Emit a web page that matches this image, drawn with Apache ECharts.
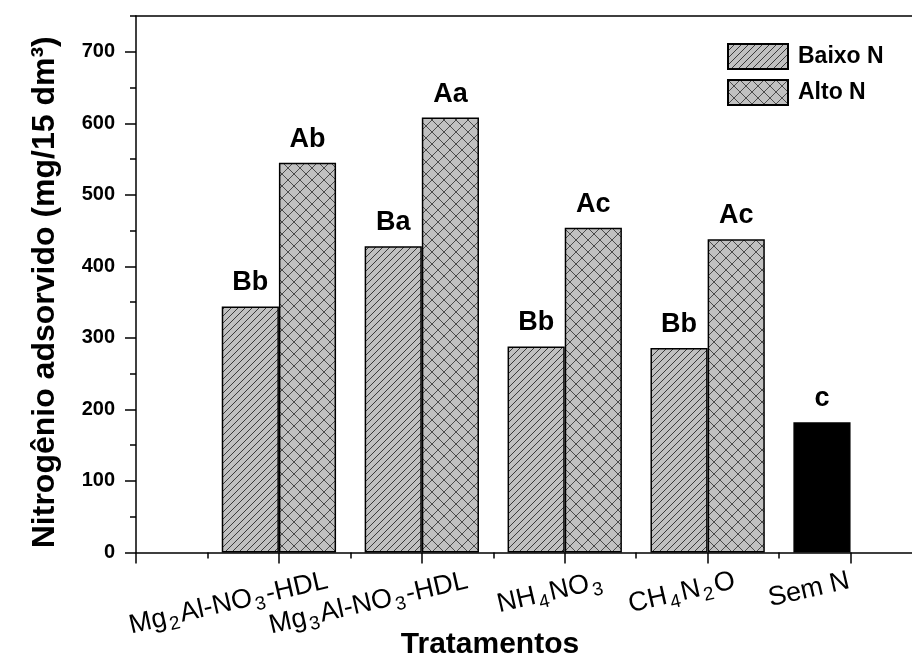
<!DOCTYPE html>
<html>
<head>
<meta charset="utf-8">
<script src="https://cdn.jsdelivr.net/npm/echarts@6/dist/echarts.min.js"></script>
<style>
html,body{margin:0;padding:0;background:#fff;}
#chart{width:912px;height:658px;}
</style>
</head>
<body>
<div id="chart"></div>
<script>
// ---- data ----
const categories = ['Mg2Al-NO3-HDL', 'Mg3Al-NO3-HDL', 'NH4NO3', 'CH4N2O', 'Sem N'];
const seriesNames = ['Baixo N', 'Alto N'];
const baixoValues = [344, 428, 288, 286, 182];
const altoValues = [545, 608, 454, 438];
const baixoLetters = ['Bb', 'Ba', 'Bb', 'Bb', 'c'];
const altoLetters = ['Ab', 'Aa', 'Ac', 'Ac'];
const yTicks = [0, 100, 200, 300, 400, 500, 600, 700];
const yMinorTicks = [50, 150, 250, 350, 450, 550, 650, 750];
const yMax = 750;

// ---- layout / style ----
const FONT = 'Liberation Sans, Arial, sans-serif';
const xMax = 5.43;
const labelShift = [0.34, 0.32, 0.27, 0.19, -0.01];
const xMajor = [0].concat(categories.map((c, i) => i + 1));
const xMinor = categories.map((c, i) => i + 0.5);
const labelPos = categories.map((c, i) => i + 1 + labelShift[i]);

function hatch(p, both, bg, fg) {
  const c = document.createElement('canvas');
  c.width = p; c.height = p;
  const g = c.getContext('2d');
  g.fillStyle = bg; g.fillRect(0, 0, p, p);
  g.strokeStyle = fg; g.lineWidth = 1;
  g.beginPath();
  g.moveTo(0, p); g.lineTo(p, 0);
  g.moveTo(-1, 1); g.lineTo(1, -1);
  g.moveTo(p - 1, p + 1); g.lineTo(p + 1, p - 1);
  if (both) {
    g.moveTo(0, 0); g.lineTo(p, p);
    g.moveTo(-1, p - 1); g.lineTo(1, p + 1);
    g.moveTo(p - 1, -1); g.lineTo(p + 1, 1);
  }
  g.stroke();
  return c;
}
const baixoPattern = { image: hatch(7, false, '#c0c0c0', '#3a3a3a'), repeat: 'repeat' };
const altoPattern = { image: hatch(12, true, '#c0c0c0', '#4a4a4a'), repeat: 'repeat' };

function richName(name) {
  return name.replace(/(\d)/g, '{s|$1}').replace(/(^|\})([^{}]+)(?=\{|$)/g, function (m, a, b) { return a + '{n|' + b + '}'; });
}

const axisLineStyle = { color: '#000', width: 1.5 };

const chart = echarts.init(document.getElementById('chart'), null, { renderer: 'canvas' });
chart.setOption({
  animation: false,
  backgroundColor: '#fff',
  textStyle: { fontFamily: FONT },
  grid: { left: 136, right: 0, top: 16, bottom: 105.5, containLabel: false, outerBoundsMode: 'none' },
  legend: {
    orient: 'vertical',
    left: 722, top: 38,
    itemWidth: 60, itemHeight: 25, itemGap: 9,
    icon: 'rect',
    data: seriesNames,
    textStyle: { fontFamily: FONT, fontSize: 23, fontWeight: 'bold', color: '#000', padding: [0, 0, 0, 5] }
  },
  xAxis: [
    {
      type: 'value', min: 0, max: xMax, position: 'bottom',
      axisLine: { show: true, lineStyle: axisLineStyle },
      axisTick: { show: true, customValues: xMajor, length: 11, lineStyle: axisLineStyle },
      splitLine: { show: false },
      axisLabel: {
        customValues: labelPos,
        rotate: 13, margin: 28,
        fontFamily: FONT, fontSize: 27, color: '#000',
        formatter: function (v) {
          const i = labelPos.findIndex(p => Math.abs(p - v) < 1e-6);
          return i >= 0 ? richName(categories[i]) : '';
        },
        rich: {
          n: { fontFamily: FONT, fontSize: 27, color: '#000' },
          s: { fontFamily: FONT, fontSize: 19, color: '#000', padding: [16, 2, 0, 2] }
        }
      },
      name: 'Tratamentos', nameLocation: 'middle', nameGap: 77, nameMoveOverlap: false,
      nameTextStyle: { fontFamily: FONT, fontSize: 30, fontWeight: 'bold', color: '#000', padding: [0, 68, 0, 0] }
    },
    {
      type: 'value', min: 0, max: xMax, position: 'bottom',
      axisLine: { show: false },
      axisTick: { show: true, customValues: xMinor, length: 6, lineStyle: axisLineStyle },
      axisLabel: { show: false }, splitLine: { show: false }
    },
    {
      type: 'value', min: 0, max: xMax, position: 'top',
      axisLine: { show: true, lineStyle: axisLineStyle },
      axisTick: { show: false }, axisLabel: { show: false }, splitLine: { show: false }
    }
  ],
  yAxis: [
    {
      type: 'value', min: 0, max: yMax, position: 'left',
      axisLine: { show: true, lineStyle: axisLineStyle },
      axisTick: { show: true, customValues: yTicks, length: 11, lineStyle: axisLineStyle },
      axisLabel: { customValues: yTicks, margin: 21, fontFamily: FONT, fontSize: 20, fontWeight: 'bold', color: '#000' },
      splitLine: { show: false },
      name: 'Nitrogênio adsorvido (mg/15 dm³)', nameLocation: 'middle', nameGap: 75, nameMoveOverlap: false,
      nameTextStyle: { fontFamily: FONT, fontSize: 32, fontWeight: 'bold', color: '#000', padding: [0, 16, 0, 0] }
    },
    {
      type: 'value', min: 0, max: yMax, position: 'left',
      axisLine: { show: false },
      axisTick: { show: true, customValues: yMinorTicks, length: 6, lineStyle: axisLineStyle },
      axisLabel: { show: false }, splitLine: { show: false }
    }
  ],
  series: [
    {
      name: seriesNames[0], type: 'bar', xAxisIndex: 0, yAxisIndex: 0,
      barGap: '0%', barCategoryGap: '20%',
      itemStyle: { color: baixoPattern, borderColor: '#000', borderWidth: 1.5 },
      label: {
        show: true, position: 'top', distance: 10,
        fontFamily: FONT, fontSize: 27, fontWeight: 'bold', color: '#000',
        formatter: p => baixoLetters[p.dataIndex]
      },
      data: baixoValues.map((v, i) => i === categories.length - 1
        ? { value: [i + 1, v], itemStyle: { color: '#000', borderColor: '#000' } }
        : { value: [i + 1, v] })
    },
    {
      name: seriesNames[1], type: 'bar', xAxisIndex: 0, yAxisIndex: 0,
      barGap: '0%', barCategoryGap: '20%',
      itemStyle: { color: altoPattern, borderColor: '#000', borderWidth: 1.5 },
      label: {
        show: true, position: 'top', distance: 10,
        fontFamily: FONT, fontSize: 27, fontWeight: 'bold', color: '#000',
        formatter: p => altoLetters[p.dataIndex]
      },
      data: altoValues.map((v, i) => [i + 1, v])
    }
  ]
});
</script>
</body>
</html>
